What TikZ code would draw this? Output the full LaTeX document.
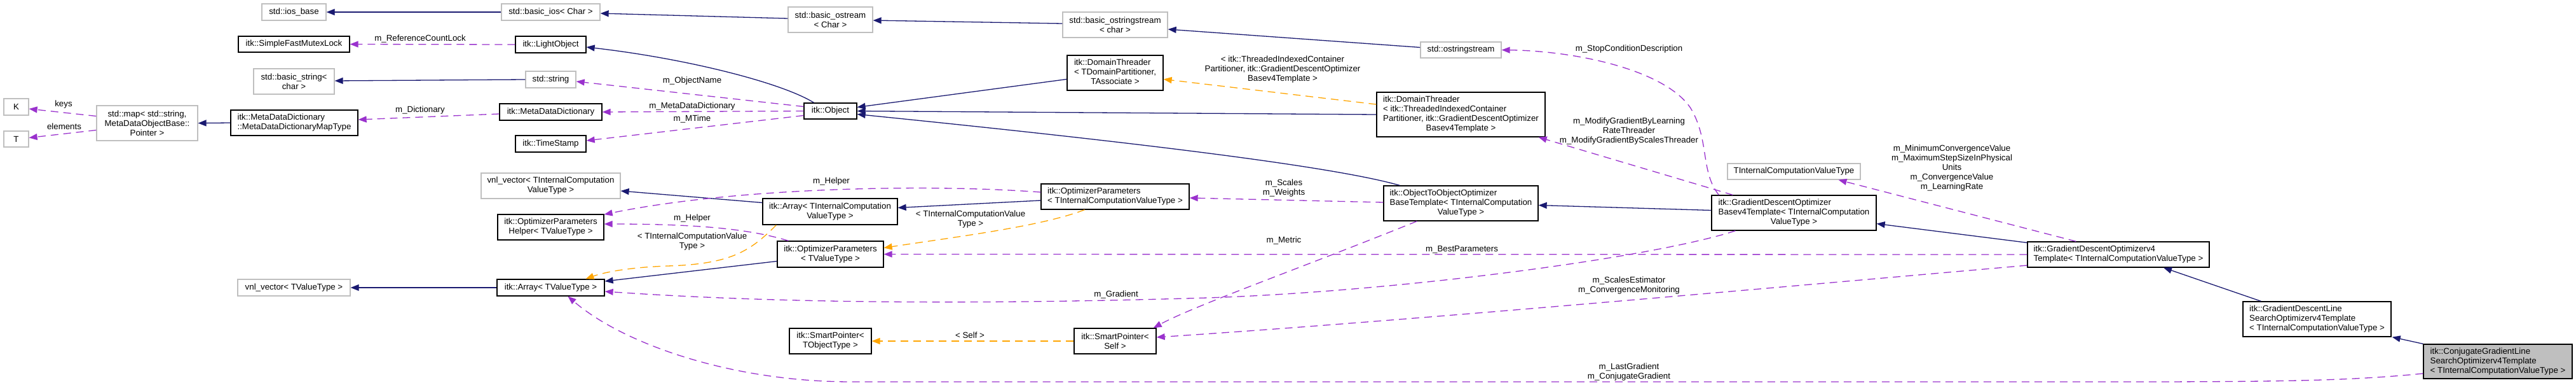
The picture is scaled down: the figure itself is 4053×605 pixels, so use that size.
\documentclass[tikz,border=0pt]{standalone}
\usepackage{fontspec}
\setmainfont{Liberation Sans}
\usetikzlibrary{arrows.meta,calc}
\definecolor{inhcol}{HTML}{191970}
\definecolor{usecol}{HTML}{9A32CD}
\definecolor{tmplcol}{HTML}{FFA500}
\definecolor{greybox}{HTML}{BFBFBF}
\newcommand\dfont{\fontsize{13.3}{15}\selectfont}
\tikzset{
  box/.style={draw=black,line width=1.3pt,fill=white,inner sep=0pt,font=\dfont},
  ext/.style={box,draw=greybox},
  wh/.style 2 args={minimum width=#1pt,minimum height=#2pt},
  tip/.style={-{Triangle[length=13pt,width=10pt]}},
  inh/.style={draw=inhcol,line width=1.3pt,tip},
  use/.style={draw=usecol,line width=1.3pt,dash pattern=on 12pt off 8pt,tip},
  tmpl/.style={draw=tmplcol,line width=1.3pt,dash pattern=on 12pt off 8pt,tip},
  lbl/.style={font=\dfont,inner sep=0pt,align=center}
}
\begin{document}
\begin{tikzpicture}[x=1pt,y=-1pt]
\useasboundingbox (0,0) rectangle (4053,605);
% ---------- nodes ----------
\node[ext,wh={39}{26}] (K) at (25.5,168) {K};
\node[ext,wh={39}{25}] (T) at (25.5,218.5) {T};
\node[ext,wh={159}{55},align=center] (map) at (231.5,193.5) {std::map< std::string,\\MetaDataObjectBase::\\Pointer >};
\node[box,wh={200}{40},align=left] (MapType) at (463,193) {itk::MetaDataDictionary\\::MetaDataDictionaryMapType};
\node[ext,wh={101}{26}] (iosbase) at (462.5,19) {std::ios\_base};
\node[box,wh={175}{25}] (mutex) at (462.5,69.5) {itk::SimpleFastMutexLock};
\node[ext,wh={127}{40},align=center] (bstring) at (462.5,128) {std::basic\_string<\\char >};
\node[ext,wh={177}{26}] (vnlTV) at (462.5,452) {vnl\_vector< TValueType >};
\node[ext,wh={155}{26}] (bios) at (866.5,19) {std::basic\_ios< Char >};
\node[box,wh={111}{26}] (LightObject) at (866.5,70) {itk::LightObject};
\node[ext,wh={79}{26}] (string) at (866.5,125) {std::string};
\node[box,wh={161}{26}] (MDD) at (866.5,176) {itk::MetaDataDictionary};
\node[box,wh={111}{26}] (TimeStamp) at (866.5,226) {itk::TimeStamp};
\node[ext,wh={219}{40},align=center] (vnlTI) at (866.5,292) {vnl\_vector< TInternalComputation\\ValueType >};
\node[box,wh={167}{40},align=center] (Helper) at (866.5,357) {itk::OptimizerParameters\\Helper< TValueType >};
\node[box,wh={169}{26}] (ArrTV) at (866.5,452) {itk::Array< TValueType >};
\node[ext,wh={133}{40},align=center] (bostream) at (1306.5,31) {std::basic\_ostream\\< Char >};
\node[box,wh={83}{25}] (Object) at (1306.5,174.5) {itk::Object};
\node[box,wh={212}{41},align=center] (ArrTI) at (1306,332.5) {itk::Array< TInternalComputation\\ValueType >};
\node[box,wh={167}{41},align=center] (OptTV) at (1306.5,399.5) {itk::OptimizerParameters\\< TValueType >};
\node[box,wh={129}{40},align=center] (SPT) at (1306.5,536) {itk::SmartPointer<\\TObjectType >};
\node[ext,wh={165}{40},align=center] (bostrstream) at (1754.5,39) {std::basic\_ostringstream\\< char >};
\node[box,wh={151}{55}] (DT1) at (1754.5,114.5) {\begin{tabular}{@{}l@{}}itk::DomainThreader\\< TDomainPartitioner,\\\multicolumn{1}{@{}c@{}}{TAssociate >}\end{tabular}};
\node[box,wh={233}{40},align=left] (OptTI) at (1754.5,309) {itk::OptimizerParameters\\< TInternalComputationValueType >};
\node[box,wh={129}{40},align=center] (SPS) at (1754.5,536) {itk::SmartPointer<\\Self >};
\node[ext,wh={127}{25}] (ostrstream) at (2298.5,78.5) {std::ostringstream};
\node[box,wh={265}{70}] (DT2) at (2298.5,180) {\begin{tabular}{@{}l@{}}itk::DomainThreader\\< itk::ThreadedIndexedContainer\\Partitioner, itk::GradientDescentOptimizer\\\multicolumn{1}{@{}c@{}}{Basev4Template >}\end{tabular}};
\node[box,wh={243}{55}] (O2O) at (2298.5,319.5) {\begin{tabular}{@{}l@{}}itk::ObjectToObjectOptimizer\\BaseTemplate< TInternalComputation\\\multicolumn{1}{@{}c@{}}{ValueType >}\end{tabular}};
\node[ext,wh={209}{25}] (TICVT) at (2822.5,269.5) {TInternalComputationValueType};
\node[box,wh={259}{55}] (GDBase) at (2822.5,334.5) {\begin{tabular}{@{}l@{}}itk::GradientDescentOptimizer\\Basev4Template< TInternalComputation\\\multicolumn{1}{@{}c@{}}{ValueType >}\end{tabular}};
\node[box,wh={286}{40},align=left] (GDv4) at (3333,400) {itk::GradientDescentOptimizerv4\\Template< TInternalComputationValueType >};
\node[box,wh={233}{55},align=left] (GDLine) at (3645.5,501.5) {itk::GradientDescentLine\\SearchOptimizerv4Template\\< TInternalComputationValueType >};
\node[box,fill=greybox,wh={234}{54},align=left] (CG) at (3930,568) {itk::ConjugateGradientLine\\SearchOptimizerv4Template\\< TInternalComputationValueType >};
% ---------- inheritance ----------
\draw[inh] (bios.west) -- (iosbase.east);
\draw[inh] ($(bostream.west)+(0,-2)$) -- ($(bios.east)+(0,2)$);
\draw[inh] ($(bostrstream.west)+(0,-2)$) -- ($(bostream.east)+(0,1)$);
\draw[inh] ($(ostrstream.west)+(0,-4)$) -- ($(bostrstream.east)+(0,7)$);
\draw[inh] ($(Object.north)+(-26,0)$) .. controls (1230,130) and (1080,92) .. ($(LightObject.east)+(0,4)$);
\draw[inh] (string.west) -- ($(bstring.east)+(0,-1)$);
\draw[inh] (MapType.west) -- (map.east);
\draw[inh] ($(DT1.west)+(0,10)$) -- ($(Object.east)+(0,-6)$);
\draw[inh] (DT2.west) -- (Object.east);
\draw[inh] ($(O2O.north west)+(26,0)$) .. controls (2120,268) and (1900,235) .. ($(Object.east)+(0,5)$);
\draw[inh] ($(ArrTI.west)+(0,-14)$) -- ($(vnlTI.east)+(0,8)$);
\draw[inh] (ArrTV.west) -- (vnlTV.east);
\draw[inh] ($(OptTV.west)+(0,11)$) -- ($(ArrTV.east)+(0,-10)$);
\draw[inh] ($(OptTI.west)+(0,6)$) -- ($(ArrTI.east)+(0,-6)$);
\draw[inh] ($(GDBase.west)+(0,-4)$) -- ($(O2O.east)+(0,3)$);
\draw[inh] ($(GDv4.north west)+(0,2)$) -- ($(GDBase.east)+(0,17)$);
\draw[inh] ($(GDLine.north west)+(29,0)$) -- ($(GDv4.south)+(71,0)$);
\draw[inh] (CG.north west) -- ($(GDLine.south east)+(1,0)$);
% ---------- usage ----------
\draw[use] ($(map.west)+(0,-11)$) -- ($(K.east)+(0,3)$);
\draw[use] ($(map.west)+(0,11)$) -- ($(T.east)+(0,-2)$);
\draw[use] (LightObject.west) -- (mutex.east);
\draw[use] ($(MDD.west)+(0,3)$) -- ($(MapType.east)+(0,-5)$);
\draw[use] ($(Object.west)+(0,-7)$) -- ($(string.east)+(0,3)$);
\draw[use] (Object.west) -- (MDD.east);
\draw[use] ($(Object.west)+(0,7)$) -- ($(TimeStamp.east)+(0,-5)$);
\draw[use] ($(OptTI.west)+(0,-7)$) .. controls (1450,288) and (1150,296) .. ($(Helper.east)+(0,-20)$);
\draw[use] ($(OptTV.north west)+(18,0)$) .. controls (1180,360) and (1100,352) .. ($(Helper.east)+(0,-5)$);
\draw[use] ($(O2O.west)+(0,-1.5)$) -- ($(OptTI.east)+(0,2)$);
\draw[use] ($(O2O.south west)+(53,0)$) .. controls (2050,420) and (1880,480) .. ($(SPS.north east)+(-5,0)$);
\draw[use] (GDv4.west) -- (OptTV.east);
\draw[use] ($(GDBase.south west)+(38,0)$) .. controls (2600,405) and (2200,458) .. (1900,468) .. controls (1500,480) and (1200,475) .. ($(ArrTV.east)+(0,6)$);
\draw[use] ($(GDv4.west)+(0,17)$) .. controls (2700,460) and (2200,505) .. ($(SPS.east)+(0,-6)$);
\draw[use] ($(CG.west)+(0,19)$) .. controls (3700,598) and (3600,600) .. (3340,600) -- (1340,600) .. controls (1150,600) and (980,540) .. ($(ArrTV.south)+(27,0)$);
\draw[use] ($(GDBase.north west)+(12,0)$) .. controls (2675,270) and (2690,220) .. (2660,170) .. controls (2620,110) and (2480,80) .. (ostrstream.east);
\draw[use] ($(GDBase.north west)+(34,0)$) -- ($(DT2.south east)+(-11,0)$);
\draw[use] ($(GDv4.north west)+(77,0)$) -- ($(TICVT.south)+(70,0)$);
% ---------- template instances ----------
\draw[tmpl] ($(OptTI.south)+(-48,0)$) .. controls (1640,355) and (1520,370) .. ($(OptTV.east)+(0,-10)$);
\draw[tmpl] ($(ArrTI.south west)+(22,0)$) .. controls (1180,395) and (1150,415) .. (1050,418) .. controls (990,420) and (950,428) .. ($(ArrTV.north)+(55,0)$);
\draw[tmpl] (SPS.west) -- (SPT.east);
\draw[tmpl] ($(DT2.west)+(0,-16)$) -- ($(DT1.east)+(0,10)$);
% ---------- labels ----------
\node[lbl] (lkeys) at (100,164) {keys};
\node[lbl] (lelem) at (101,199) {elements};
\node[lbl] (lrcl) at (661,61) {m\_ReferenceCountLock};
\node[lbl] (ldict) at (661,173) {m\_Dictionary};
\node[lbl] (lobjn) at (1089,127) {m\_ObjectName};
\node[lbl] (lmdd) at (1089,167) {m\_MetaDataDictionary};
\node[lbl] (lmtime) at (1089,187) {m\_MTime};
\node[lbl] (lhelp1) at (1308,285) {m\_Helper};
\node[lbl] (lhelp2) at (1089,343) {m\_Helper};
\node[lbl] (ltic1) at (1089,380) {< TInternalComputationValue\\Type >};
\node[lbl] (ltic2) at (1527,345) {< TInternalComputationValue\\Type >};
\node[lbl] (lself) at (1526,527) {< Self >};
\node[lbl] (ldt) at (2018,109) {< itk::ThreadedIndexedContainer\\Partitioner, itk::GradientDescentOptimizer\\Basev4Template >};
\node[lbl] (lscales) at (2020,296) {m\_Scales\\m\_Weights};
\node[lbl] (lmetric) at (2020,378) {m\_Metric};
\node[lbl] (lgrad) at (1756,463) {m\_Gradient};
\node[lbl] (lbest) at (2300,392) {m\_BestParameters};
\node[lbl] (lstop) at (2563,77) {m\_StopConditionDescription};
\node[lbl] (lmod) at (2563,206) {m\_ModifyGradientByLearning\\RateThreader\\m\_ModifyGradientByScalesThreader};
\node[lbl] (lse) at (2563,449) {m\_ScalesEstimator\\m\_ConvergenceMonitoring};
\node[lbl] (llast) at (2563,585) {m\_LastGradient\\m\_ConjugateGradient};
\node[lbl] (lmin) at (3071,264) {m\_MinimumConvergenceValue\\m\_MaximumStepSizeInPhysical\\Units\\m\_ConvergenceValue\\m\_LearningRate};
\end{tikzpicture}
\end{document}
